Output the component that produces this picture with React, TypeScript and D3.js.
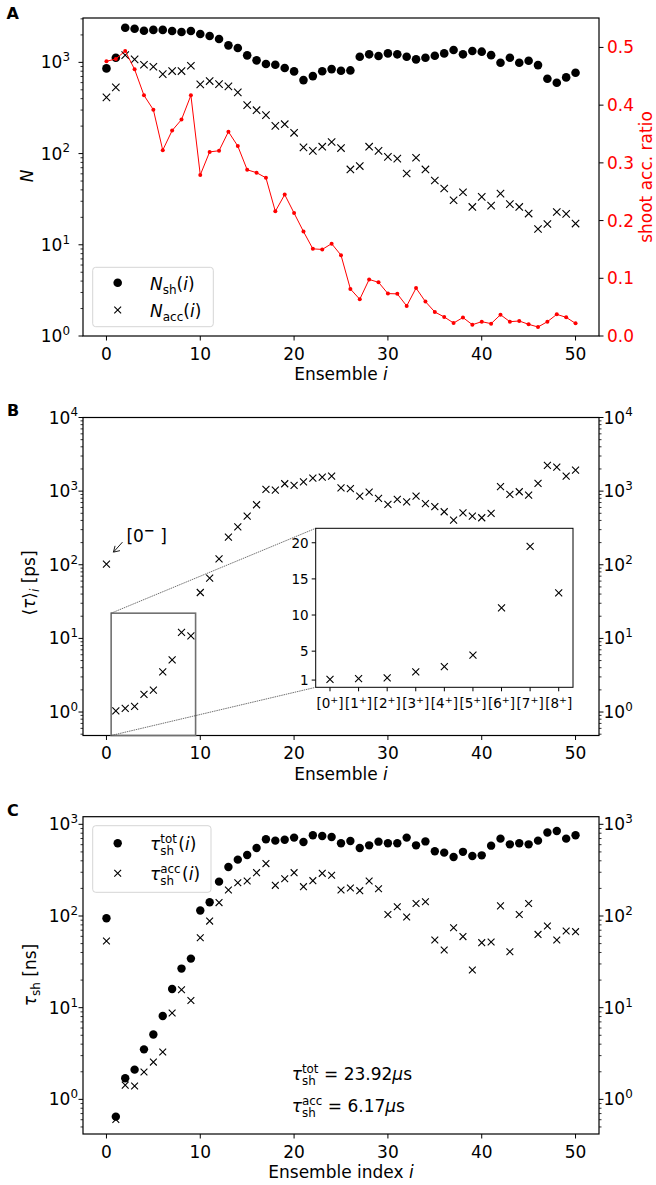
import React from 'react';
import * as d3 from 'd3';

const FONT = '"DejaVu Sans", "Liberation Sans", sans-serif';
const RED = '#ff0000';

// ---------- shared ----------
const ensemble = [0,1,2,3,4,5,6,7,8,9,10,11,12,13,14,15,16,17,18,19,20,21,22,23,24,25,26,27,28,29,30,31,32,33,34,35,36,37,38,39,40,41,42,43,44,45,46,47,48,49,50];
const xTickValues = [0, 10, 20, 30, 40, 50];

// ---------- panel A ----------
const nShoot = [859,1124,2398,2340,2223,2270,2270,2206,2152,2206,2046,1945,1803,1537,1436,1194,1052,958,941,866,796,639,707,800,844,808,816,1153,1225,1173,1254,1225,1153,1079,1124,1182,1254,1365,1225,1331,1310,1200,990,1124,990,1041,933,661,597,684,769];
const nAccepted = [413,532,1202,1079,941,895,744,803,803,918,573,624,578,545,469,340,299,264,201,210,169,117,107,119,134,115,67,73,119,107,92,88,60.5,90,67,50.7,41.4,30.8,37.7,26,33.5,26.9,36.4,27.9,26,22,14.9,16.9,22.9,21.8,17.1];
const accRatio = [0.476,0.480,0.494,0.462,0.417,0.392,0.322,0.356,0.375,0.417,0.279,0.319,0.321,0.354,0.329,0.288,0.283,0.274,0.216,0.245,0.213,0.181,0.151,0.150,0.160,0.140,0.0815,0.0636,0.098,0.093,0.0735,0.073,0.052,0.083,0.0596,0.0416,0.033,0.0225,0.032,0.0196,0.0248,0.0214,0.0369,0.0248,0.026,0.0202,0.0156,0.0248,0.0375,0.0323,0.0219];
const ratioTicks = [0, 0.1, 0.2, 0.3, 0.4, 0.5];

// ---------- panel B ----------
const tauMean = [102,1.04,1.12,1.19,1.74,1.99,3.5,5.1,12.1,10.8,42,66,120,237,328,457,653,1055,1030,1260,1195,1340,1500,1550,1600,1110,1080,855,968,796,659,771,717,855,675,614,525,403,508,457,435,498,1148,902,981,880,1273,2240,2120,1600,1932];
const insetLabels = ['0','1','2','3','4','5','6','7','8'];
const insetTau = [1.11,1.19,1.29,2.12,2.86,4.44,11.0,19.5,13.05];
const insetYTicks = [1, 5, 10, 15, 20];

// ---------- panel C ----------
const tauTot = [94.4,0.648,1.70,2.11,3.51,5.1,8.1,16.0,26.7,34.3,115,141,237,343,412,463,552,687,664,680,716,641,759,746,727,621,658,552,590,647,621,621,716,590,651,508,491,440,501,451,459,585,698,605,621,605,664,813,847,698,759];
const tauAccepted = [53.4,0.605,1.43,1.40,1.99,2.55,3.28,8.75,15.7,12.0,58,88,140,192,231,241,297,373,216,255,297,209,243,292,278,192,202,189,241,198,104,126,97.5,137,143,54.7,42.6,74.6,59.6,25.8,51.2,52,129,40.8,104,137,63,77.8,54.7,68.6,67.5];

// ---------- helpers ----------
let _ctx: any = null;
function textWidth(s: string, size: number, italic = false) {
  if (typeof document === 'undefined') return s.length * size * 0.6;
  if (!_ctx) _ctx = document.createElement('canvas').getContext('2d');
  _ctx.font = `${italic ? 'italic ' : ''}${size}px "DejaVu Sans"`;
  return _ctx.measureText(s).width;
}

const FS = 17;
const crossPath = (x: number, y: number, s: number) =>
  `M${x - s},${y - s}L${x + s},${y + s}M${x - s},${y + s}L${x + s},${y - s}`;

function Pow({ x, y, exp, anchor, fill = '#000', size = FS }: any) {
  return (
    <text x={x} y={y} textAnchor={anchor} fontSize={size} fill={fill}>
      10<tspan dy={-0.42 * size} fontSize={size * 0.7}>{exp}</tspan>
    </text>
  );
}

function XAxis({ scale, y, values }: any) {
  return (
    <g>
      {values.map((v: number) => (
        <g key={v}>
          <line x1={scale(v)} x2={scale(v)} y1={y} y2={y + 4.5} stroke="#000" strokeWidth={1} />
          <text x={scale(v)} y={y + 23.5} textAnchor="middle" fontSize={FS}>{v}</text>
        </g>
      ))}
    </g>
  );
}

function LogYAxis({ scale, x, side, labelX, labels = true }: any) {
  const ticks: number[] = scale.ticks();
  const dir = side === 'left' ? -1 : 1;
  return (
    <g>
      {ticks.map((t, i) => {
        const lg = Math.log10(t);
        const major = Math.abs(lg - Math.round(lg)) < 1e-9;
        const len = major ? 4.5 : 2.5;
        const yy = scale(t);
        return (
          <g key={i}>
            <line x1={x} x2={x + dir * len} y1={yy} y2={yy} stroke="#000" strokeWidth={major ? 1 : 0.8} />
            {major && labels ? (
              <Pow x={labelX} y={yy + 6} exp={Math.round(lg)} anchor={side === 'left' ? 'end' : 'start'} />
            ) : null}
          </g>
        );
      })}
    </g>
  );
}

function Dots({ xs, ys, xScale, yScale, r }: any) {
  return (
    <g>
      {ys.map((v: number, i: number) => (
        <circle key={i} cx={xScale(xs[i])} cy={yScale(v)} r={r} fill="#000" />
      ))}
    </g>
  );
}

function Crosses({ xs, ys, xScale, yScale, s }: any) {
  return (
    <g>
      {ys.map((v: number, i: number) => (
        <path key={i} d={crossPath(xScale(xs[i]), yScale(v), s)} stroke="#000" strokeWidth={1.1} fill="none" />
      ))}
    </g>
  );
}

// tau with stacked superscript / subscript drawn as one text element
function TauSym({ x, y, sup, sub, size, children }: any) {
  const wT = textWidth('τ', size, true);
  const ss = size * 0.7;
  const wSup = textWidth(sup, ss);
  const wSub = textWidth(sub, ss);
  const wS = Math.max(wSup, wSub);
  return (
    <g>
      <text x={x} y={y} fontSize={size}>
        <tspan fontStyle="italic">τ</tspan>
        <tspan fontSize={ss} dy={-7.5}>{sup}</tspan>
        <tspan fontSize={ss} dx={-wSup} dy={12}>{sub}</tspan>
      </text>
      {children(x + wT + 0.5 + wS + 1)}
    </g>
  );
}

// ---------- geometry ----------
const X0 = 83, X1 = 599;
const xScale = d3.scaleLinear().domain([-2.5, 52.5]).range([X0, X1]);

function PanelA() {
  const top = 18, bot = 336;
  const y = d3.scaleLog().domain([1, 3065]).range([bot, top]);
  const yr = d3.scaleLinear().domain([0, 0.551]).range([bot, top]);
  const line = d3.line<number>().x((_, i) => xScale(ensemble[i])).y(d => yr(d));
  return (
    <g>
      <text x={6.5} y={18.5} fontSize={16} fontWeight="bold">A</text>
      <Dots xs={ensemble} ys={nShoot} xScale={xScale} yScale={y} r={4.3} />
      <Crosses xs={ensemble} ys={nAccepted} xScale={xScale} yScale={y} s={3.7} />
      <path d={line(accRatio) || ''} fill="none" stroke={RED} strokeWidth={1} />
      {accRatio.map((v, i) => (
        <circle key={i} cx={xScale(ensemble[i])} cy={yr(v)} r={2} fill={RED} />
      ))}
      <rect x={X0} y={top} width={X1 - X0} height={bot - top} fill="none" stroke="#000" strokeWidth={1.2} />
      <XAxis scale={xScale} y={bot} values={xTickValues} />
      <LogYAxis scale={y} x={X0} side="left" labelX={70} />
      {ratioTicks.map(t => (
        <g key={t}>
          <line x1={X1} x2={X1 + 4.5} y1={yr(t)} y2={yr(t)} stroke="#000" strokeWidth={1} />
          <text x={607} y={yr(t) + 6} fontSize={FS} fill={RED}>{t.toFixed(1)}</text>
        </g>
      ))}
      <text x={341} y={380} textAnchor="middle" fontSize={FS}>Ensemble <tspan fontStyle="italic">i</tspan></text>
      <text transform="translate(33,176) rotate(-90)" textAnchor="middle" fontSize={FS} fontStyle="italic">N</text>
      <text transform="translate(652,177) rotate(-90)" textAnchor="middle" fontSize={FS} fill={RED}>shoot acc. ratio</text>
      {/* legend */}
      <rect x={92.7} y={267.3} width={120.6} height={59.4} rx={3} fill="#fff" fillOpacity={0.8} stroke="#d5d5d5" strokeWidth={1} />
      <circle cx={117.7} cy={282.7} r={4.3} fill="#000" />
      <text x={150} y={289.5} fontSize={FS}>
        <tspan fontStyle="italic">N</tspan><tspan fontSize={12} dy={4}>sh</tspan><tspan dy={-4}>(</tspan><tspan fontStyle="italic">i</tspan>)
      </text>
      <path d={crossPath(117.7, 310, 3.4)} stroke="#000" strokeWidth={1.1} />
      <text x={150} y={316.5} fontSize={FS}>
        <tspan fontStyle="italic">N</tspan><tspan fontSize={12} dy={4}>acc</tspan><tspan dy={-4}>(</tspan><tspan fontStyle="italic">i</tspan>)
      </text>
    </g>
  );
}

function PanelB() {
  const top = 417.5, bot = 735.5;
  const y = d3.scaleLog().domain([0.48, 1e4]).range([bot, top]);
  const ix0 = 315.7, ix1 = 573, iy0 = 528.3, iy1 = 687.3;
  const xi = d3.scaleLinear().domain([-0.5, 8.5]).range([ix0, ix1]);
  const yi = d3.scaleLinear().domain([0, 22]).range([iy1, iy0]);
  const bx0 = xScale(0.5), bx1 = xScale(9.5), by0 = y(22);
  const px = xScale(ensemble[0]), py = y(tauMean[0]);
  return (
    <g>
      <text x={7} y={416} fontSize={16} fontWeight="bold">B</text>
      <Crosses xs={ensemble} ys={tauMean} xScale={xScale} yScale={y} s={3.5} />
      <rect x={X0} y={top} width={X1 - X0} height={bot - top} fill="none" stroke="#000" strokeWidth={1.2} />
      <XAxis scale={xScale} y={bot} values={xTickValues} />
      <LogYAxis scale={y} x={X0} side="left" labelX={78} />
      <LogYAxis scale={y} x={X1} side="right" labelX={603.5} />
      <text x={341} y={bot + 44} textAnchor="middle" fontSize={FS}>Ensemble <tspan fontStyle="italic">i</tspan></text>
      <text transform="translate(35,583) rotate(-90)" textAnchor="middle" fontSize={FS}>
        ⟨<tspan fontStyle="italic">τ</tspan>⟩<tspan fontSize={12} fontStyle="italic" dy={4}>i</tspan><tspan dy={-4}> [ps]</tspan>
      </text>
      {/* annotation [0-] */}
      <text x={px + 20} y={py - 22} fontSize={FS}>
        [0<tspan dy={-7} fontSize={13} fontWeight="bold">−</tspan><tspan dy={7}> ]</tspan>
      </text>
      <path d={`M${px + 16},${py - 22}L${px + 7},${py - 12}`} stroke="#000" strokeWidth={0.9} fill="none" />
      <path d={`M${px + 7 + 6.5},${py - 12 - 1.5}L${px + 7},${py - 12}L${px + 7 + 1.6},${py - 12 - 6.3}`} stroke="#000" strokeWidth={0.9} fill="none" />
      {/* zoom box and connectors */}
      <rect x={bx0} y={by0} width={bx1 - bx0} height={bot - by0} fill="none" stroke="#707070" strokeWidth={1.6} />
      <line x1={bx0} y1={by0} x2={ix0} y2={iy0} stroke="#333" strokeWidth={0.7} strokeDasharray="1.5,0.8" />
      <line x1={bx0} y1={bot} x2={ix0} y2={iy1} stroke="#333" strokeWidth={0.7} strokeDasharray="1.5,0.8" />
      {/* inset */}
      <rect x={ix0} y={iy0} width={ix1 - ix0} height={iy1 - iy0} fill="#fff" stroke="#000" strokeWidth={1} />
      {insetTau.map((v, i) => (
        <path key={i} d={crossPath(xi(i), yi(v), 3.5)} stroke="#000" strokeWidth={1.1} fill="none" />
      ))}
      {insetYTicks.map(t => (
        <g key={t}>
          <line x1={ix0} x2={ix0 - 4} y1={yi(t)} y2={yi(t)} stroke="#000" strokeWidth={1} />
          <text x={ix0 - 7} y={yi(t) + 5} textAnchor="end" fontSize={13.5}>{t}</text>
        </g>
      ))}
      {insetLabels.map((l, i) => (
        <g key={l}>
          <line x1={xi(i)} x2={xi(i)} y1={iy1} y2={iy1 + 4} stroke="#000" strokeWidth={1} />
          <text x={xi(i)} y={iy1 + 21} textAnchor="middle" fontSize={13.5}>
            [{l}<tspan dy={-5} fontSize={9.5}>+</tspan><tspan dy={5}>]</tspan>
          </text>
        </g>
      ))}
    </g>
  );
}

function PanelC() {
  const top = 816.7, bot = 1134;
  const y = d3.scaleLog().domain([0.419, 1211]).range([bot, top]);
  return (
    <g>
      <text x={7} y={816} fontSize={16} fontWeight="bold">C</text>
      <Dots xs={ensemble} ys={tauTot} xScale={xScale} yScale={y} r={4.2} />
      <Crosses xs={ensemble} ys={tauAccepted} xScale={xScale} yScale={y} s={3.4} />
      <rect x={X0} y={top} width={X1 - X0} height={bot - top} fill="none" stroke="#000" strokeWidth={1.2} />
      <XAxis scale={xScale} y={bot} values={xTickValues} />
      <LogYAxis scale={y} x={X0} side="left" labelX={78} />
      <LogYAxis scale={y} x={X1} side="right" labelX={603.5} />
      <text x={341} y={bot + 44} textAnchor="middle" fontSize={FS}>Ensemble index <tspan fontStyle="italic">i</tspan></text>
      <text transform="translate(36,975) rotate(-90)" textAnchor="middle" fontSize={FS}>
        <tspan fontStyle="italic">τ</tspan><tspan fontSize={12} dy={4}>sh</tspan><tspan dy={-4}> [ns]</tspan>
      </text>
      {/* legend */}
      <rect x={92.7} y={825.7} width={118.3} height={66.6} rx={3} fill="#fff" fillOpacity={0.8} stroke="#d5d5d5" strokeWidth={1} />
      <circle cx={117.7} cy={843.3} r={4.2} fill="#000" />
      <TauSym x={150} y={850} sup="tot" sub="sh" size={FS}>
        {(xx: number) => <text x={xx} y={850} fontSize={FS}>(<tspan fontStyle="italic">i</tspan>)</text>}
      </TauSym>
      <path d={crossPath(117.7, 873.3, 3.4)} stroke="#000" strokeWidth={1.1} />
      <TauSym x={150} y={880} sup="acc" sub="sh" size={FS}>
        {(xx: number) => <text x={xx} y={880} fontSize={FS}>(<tspan fontStyle="italic">i</tspan>)</text>}
      </TauSym>
      {/* text annotations */}
      <TauSym x={291.7} y={1080} sup="tot" sub="sh" size={FS}>
        {(xx: number) => <text x={xx + 4} y={1080} fontSize={FS}>= 23.92<tspan fontStyle="italic">μ</tspan>s</text>}
      </TauSym>
      <TauSym x={291.7} y={1112} sup="acc" sub="sh" size={FS}>
        {(xx: number) => <text x={xx + 4} y={1112} fontSize={FS}>= 6.17<tspan fontStyle="italic">μ</tspan>s</text>}
      </TauSym>
    </g>
  );
}

export default function App() {
  return (
    <svg width={656} height={1185} style={{ position: 'absolute', left: 0, top: 0, background: '#fff' }} fontFamily={FONT}>
      <rect width={656} height={1185} fill="#fff" />
      <PanelA />
      <PanelB />
      <PanelC />
    </svg>
  );
}
